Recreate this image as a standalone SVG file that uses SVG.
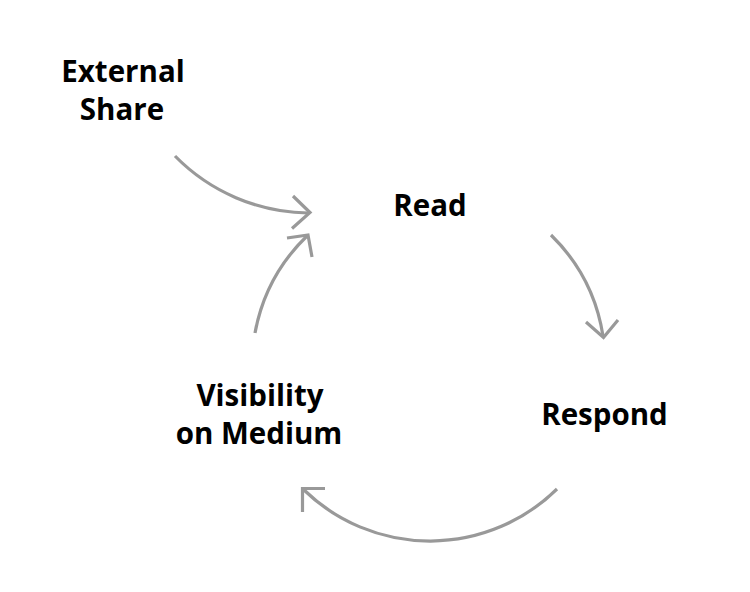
<svg xmlns="http://www.w3.org/2000/svg" width="750" height="592" viewBox="0 0 750 592">
<style>
.lbl{font-family:"Open Sans","Liberation Sans",sans-serif;font-weight:700;font-size:29.5px;fill:#000;text-anchor:middle}
.arc{fill:none;stroke:#999;stroke-width:3.2;stroke-linecap:butt;stroke-linejoin:miter}
</style>
<rect width="750" height="592" fill="#fff"/>
<g id="connectors">
<path class="arc" d="M175,156 A190,190 0 0 0 308,213"/>
<path class="arc" d="M293,196 L310,212.5 L292,228.5"/>
<path class="arc" d="M255,333 A180,180 0 0 1 307,236"/>
<path class="arc" d="M287,238 L308,235 L312,257"/>
<path class="arc" d="M551,235 A180,180 0 0 1 603,336"/>
<path class="arc" d="M586,322 L603.5,337.5 L618,320"/>
<path class="arc" d="M557,489 A181,181 0 0 1 304,490"/>
<path class="arc" d="M325,488.5 L302.5,488.5 L302.5,512"/>
</g>
<g id="external-share"><text class="lbl" x="123" y="82">External</text><text class="lbl" x="122" y="120">Share</text></g>
<g id="read"><text class="lbl" x="430" y="216">Read</text></g>
<g id="respond"><text class="lbl" x="604.5" y="425">Respond</text></g>
<g id="visibility"><text class="lbl" x="260" y="406">Visibility</text><text class="lbl" x="259" y="444">on Medium</text></g>
</svg>
